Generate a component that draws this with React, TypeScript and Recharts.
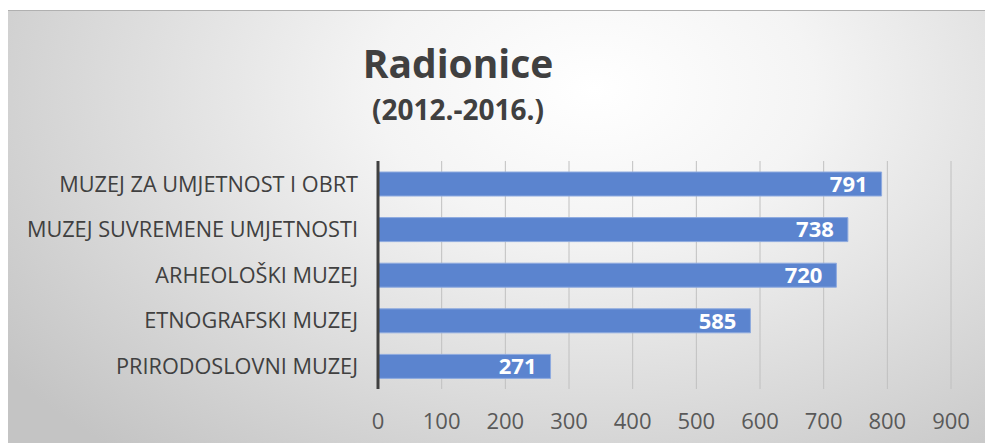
import React from 'react';
import { Bar, BarChart, CartesianGrid, LabelList, XAxis, YAxis } from 'recharts';

const museums = [
  'MUZEJ ZA UMJETNOST I OBRT',
  'MUZEJ SUVREMENE UMJETNOSTI',
  'ARHEOLOŠKI MUZEJ',
  'ETNOGRAFSKI MUZEJ',
  'PRIRODOSLOVNI MUZEJ',
];
const workshops = [791, 738, 720, 585, 271];
const xTicks = [0, 100, 200, 300, 400, 500, 600, 700, 800, 900];

const data = museums.map((name, i) => ({ name, value: workshops[i] }));

const font = '"Open Sans", sans-serif';

export default function App() {
  return (
    <div
      style={{
        position: 'absolute',
        left: 8,
        top: 10,
        width: 977,
        height: 433,
        background: 'radial-gradient(ellipse 75% 110% at 60% 18%, #ffffff 0%, #f4f4f4 30%, #c4c4c4 100%)',
        borderTop: '1px solid #b0b0b0',
        fontFamily: font,
      }}
    >
      <div
        style={{
          position: 'absolute',
          left: 0,
          width: 900,
          top: 27,
          textAlign: 'center',
          fontSize: 39,
          fontWeight: 700,
          color: '#404040',
          lineHeight: '50px',
        }}
      >
        Radionice
      </div>
      <div
        style={{
          position: 'absolute',
          left: 0,
          width: 900,
          top: 80,
          textAlign: 'center',
          fontSize: 28,
          fontWeight: 700,
          color: '#404040',
          lineHeight: '36px',
        }}
      >
        (2012.-2016.)
      </div>
      <BarChart
        width={977}
        height={433}
        data={data}
        layout="vertical"
        margin={{ top: 150, right: 34, bottom: 0, left: 0 }}
        style={{ position: 'absolute', left: 0, top: 0 }}
      >
        <CartesianGrid horizontal={false} stroke="#c0c0c0" strokeWidth={1} />
        <XAxis
          type="number"
          domain={[0, 900]}
          ticks={xTicks}
          interval={0}
          axisLine={false}
          tickLine={false}
          tickSize={0}
          tickMargin={24}
          height={55}
          tick={{ fill: '#595959', fontSize: 22, fontFamily: font }}
        />
        <YAxis
          type="category"
          dataKey="name"
          width={370}
          axisLine={{ stroke: '#404040', strokeWidth: 3 }}
          tickLine={false}
          tickSize={0}
          tickMargin={20}
          interval={0}
          tick={{ fill: '#404040', fontSize: 21.7, fontFamily: font }}
        />
        <Bar
          dataKey="value"
          fill="#5b84cf"
          stroke="#8eaadf"
          strokeWidth={1}
          barSize={24}
          isAnimationActive={false}
        >
          <LabelList
            dataKey="value"
            position="insideRight"
            offset={14}
            fill="#ffffff"
            style={{ fontSize: 22, fontWeight: 700, fontFamily: font }}
          />
        </Bar>
      </BarChart>
    </div>
  );
}
